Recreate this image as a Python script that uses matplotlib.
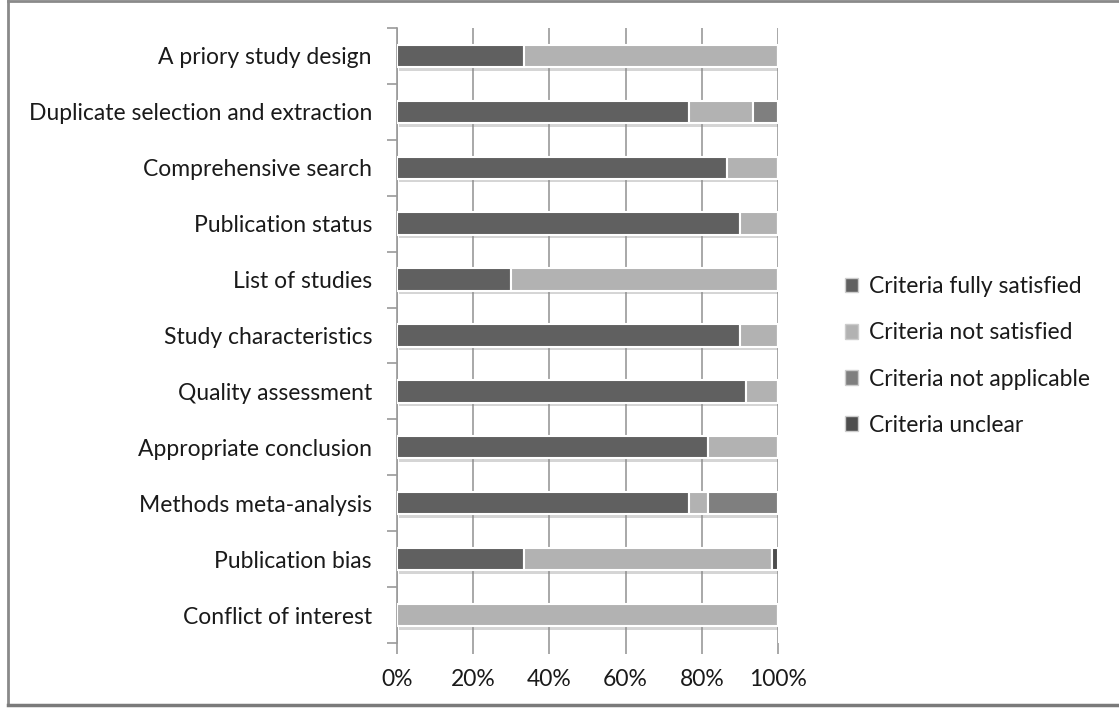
import matplotlib
matplotlib.use("Agg")
import matplotlib.pyplot as plt
from matplotlib.lines import Line2D
from matplotlib.patches import Patch
import matplotlib.patheffects as pe
import numpy as np

plt.rcParams['font.family'] = ['Lato', 'DejaVu Sans']

categories = [
    "A priory study design",
    "Duplicate selection and extraction",
    "Comprehensive search",
    "Publication status",
    "List of studies",
    "Study characteristics",
    "Quality assessment",
    "Appropriate conclusion",
    "Methods meta-analysis",
    "Publication bias",
    "Conflict of interest",
]
fully_satisfied = [33.3, 76.7, 86.7, 90.0, 30.0, 90.0, 91.7, 81.7, 76.7, 33.3, 0.0]
not_satisfied   = [66.7, 16.7, 13.3, 10.0, 70.0, 10.0, 8.3, 18.3, 5.0, 65.0, 100.0]
not_applicable  = [0.0, 6.6, 0.0, 0.0, 0.0, 0.0, 0.0, 0.0, 18.3, 0.0, 0.0]
unclear         = [0.0, 0.0, 0.0, 0.0, 0.0, 0.0, 0.0, 0.0, 0.0, 1.7, 0.0]
series_names = ["Criteria fully satisfied", "Criteria not satisfied",
                "Criteria not applicable", "Criteria unclear"]
xticks = [0, 20, 40, 60, 80, 100]
xtick_labels = ["0%", "20%", "40%", "60%", "80%", "100%"]

colors = ["#606060", "#b2b2b2", "#7f7f7f", "#4d4d4d"]
FS = 16.5
TXT = '#1a1a1a'

fig = plt.figure(figsize=(11.19, 7.09), dpi=100)
ax = fig.add_axes([397/1119, 1-643/709, (778-397)/1119, (643-28)/709])

y = np.arange(len(categories))
left = np.zeros(len(categories))
series = [fully_satisfied, not_satisfied, not_applicable, unclear]
shadow = [pe.SimplePatchShadow(offset=(1.5, -2.5), shadow_rgbFace='#888888', alpha=0.35), pe.Normal()]
for vals, c in zip(series, colors):
    vals = np.array(vals)
    bars = ax.barh(y, vals, left=left, height=0.4, color=c, edgecolor='white',
                   linewidth=1.5, zorder=3)
    for b in bars:
        b.set_path_effects(shadow)
    left += vals

ax.set_xlim(0, 100)
ax.set_ylim(len(categories) - 0.5, -0.5)
ax.set_xticks(xticks)
ax.set_xticklabels(xtick_labels)
ax.set_yticks(y)
ax.set_yticklabels(categories)
ax.set_yticks(np.arange(len(categories) + 1) - 0.5, minor=True)

ax.grid(axis='x', color='#9a9a9a', linewidth=1.2, zorder=0)
for s in ['top', 'right', 'bottom']:
    ax.spines[s].set_visible(False)
ax.spines['left'].set_color('#9a9a9a')
ax.spines['left'].set_linewidth(1.2)
ax.tick_params(axis='y', which='major', length=0, pad=18, labelsize=FS, labelcolor=TXT)
ax.tick_params(axis='y', which='minor', length=7, color='#9a9a9a', width=1.2)
ax.tick_params(axis='x', which='major', length=8, color='#9a9a9a', width=1.2,
               labelsize=FS, labelcolor=TXT, pad=11)

handles = [Patch(facecolor=c, edgecolor='#cccccc', label=n) for c, n in zip(colors, series_names)]
leg = fig.legend(handles=handles, loc='center left', bbox_to_anchor=(824/1119, 1-356/709),
                 frameon=False, fontsize=FS, handlelength=0.6, handleheight=0.6,
                 handletextpad=0.45, labelspacing=1.1, labelcolor=TXT)

# outer frame
fig.add_artist(Line2D([8/1119, 8/1119], [1-1/709, 1-705/709], color='#8a8a8a', lw=2, transform=fig.transFigure))
fig.add_artist(Line2D([8/1119, 1], [1-1/709, 1-1/709], color='#8a8a8a', lw=2, transform=fig.transFigure))
fig.add_artist(Line2D([8/1119, 1], [1-705/709, 1-705/709], color='#7a7a7a', lw=2.5, transform=fig.transFigure))

fig.savefig("out.png", dpi=100, facecolor='white')
